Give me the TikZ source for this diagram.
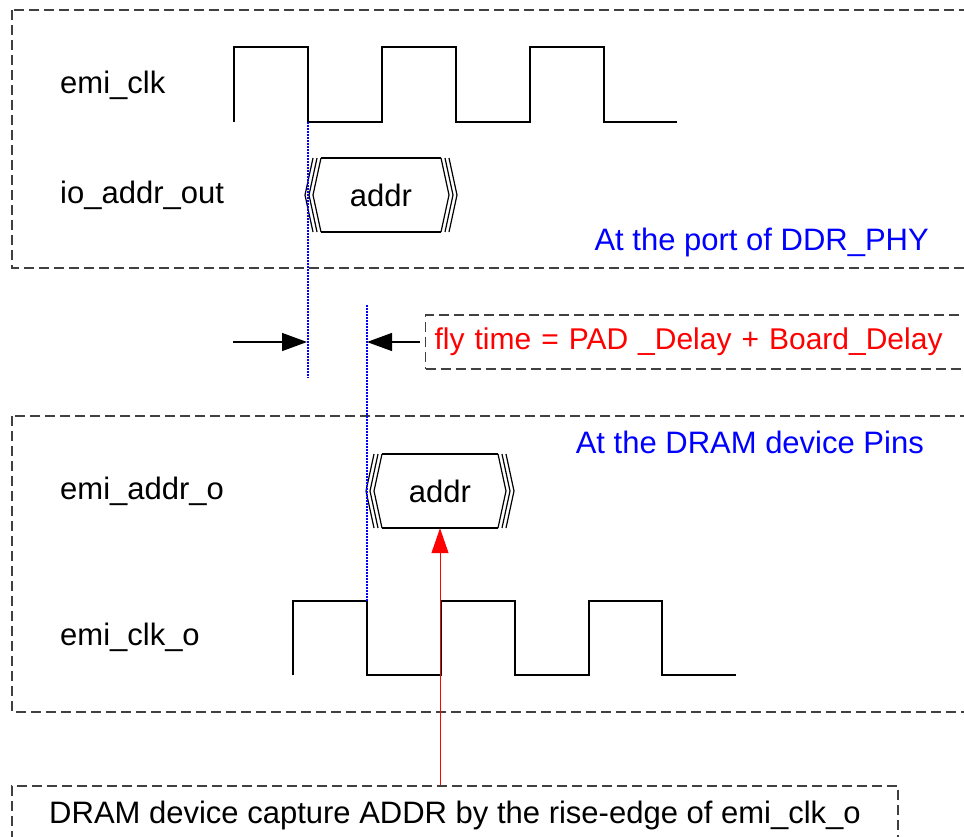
\documentclass[tikz,border=0pt]{standalone}
\usepackage{fontspec}
\setmainfont{Liberation Sans}
\usepackage{xcolor}
\usepackage{tikz}
\usetikzlibrary{arrows.meta, positioning}

% bus value: left x, right x, centre y
\newcommand\busshape[3]{%
  \foreach \k in {0,1,2}{
    \draw[wave] ({#1+8+4*\k},{#3-37}) -- ({#1+4*\k},#3) -- ({#1+8+4*\k},{#3+37});
    \draw[wave] ({#2-8-4*\k},{#3-37}) -- ({#2-4*\k},#3) -- ({#2-8-4*\k},{#3+37});
  }
  \draw[wave] ({#1+16},{#3-37}) -- ({#2-16},{#3-37})
              ({#1+16},{#3+37}) -- ({#2-16},{#3+37});
}

\begin{document}
\begin{tikzpicture}[
  x=1pt, y=-1pt,
  every node/.style={font=\fontsize{31}{37}\selectfont, inner sep=0pt},
  wave/.style={draw=black, line width=1.2pt},
  dashbox/.style={draw=black!75, line width=1.2pt, dash pattern=on 10pt off 5pt},
  marker/.style={draw=blue, line width=1.3pt, dash pattern=on 1.6pt off 1.4pt},
  dimarrow/.style={-{Triangle[length=25pt, width=18pt]}, line width=1.2pt},
  redarrow/.style={-{Triangle[length=25pt, width=17pt]}, draw=red, fill=red, line width=1pt}
]
\useasboundingbox (0,0) rectangle (964,836);

% Boxes
\draw[dashbox] (12,10) rectangle (990,268);
\draw[dashbox] (12,416) rectangle (990,712);

% Signal names
\node[anchor=west] (clk) at (60,85) {emi\_clk};
\node[anchor=west] (addrout) at (60,195) {io\_addr\_out};
\node[anchor=west] (addro) at (60,491) {emi\_addr\_o};
\node[anchor=west] (clko) at (60,637) {emi\_clk\_o};

\node[anchor=east, text=blue] (port) at (929,242) {At the port of DDR\_PHY};
\node[anchor=east, text=blue] (pins) at (924,442) {At the DRAM device Pins};

% Waves
\draw[wave] (234,122) -- (234,47) -- (308,47) -- (308,122) -- (382,122)
  -- (382,47) -- (456,47) -- (456,122) -- (530,122) -- (530,47)
  -- (604,47) -- (604,122) -- (677,122);
\draw[wave] (293,675) -- (293,601) -- (367,601) -- (367,675) -- (441,675)
  -- (441,601) -- (515,601) -- (515,675) -- (589,675) -- (589,601)
  -- (662,601) -- (662,675) -- (736,675);

\busshape{305}{457}{195}
\node[minimum width=120pt, minimum height=74pt] (addrA) at (381,195) {addr};
\busshape{366}{514}{491}
\node[minimum width=116pt, minimum height=74pt] (addrB) at (440,491) {addr};

% Edges
\coordinate (fallA) at (308,122);
\coordinate (fallAend) at (308,378);
\coordinate (riseB) at (367,305);
\coordinate (riseBend) at (367,601);
\draw[marker] (fallA) -- (fallAend);
\draw[marker] (riseB) -- (riseBend);

% Fly time
\node[draw=black!75, line width=1.2pt, dash pattern=on 10pt off 5pt,
  anchor=west, text=red, text width=544pt, align=left, inner xsep=9pt,
  minimum height=54pt, font=\fontsize{30}{36}\selectfont] (fly) at (425,342)
  {fly time = PAD \_Delay + Board\_Delay};
\coordinate (ltail) at (233,342);
\coordinate (lhead) at (307,342);
\coordinate (rtail) at (420,342);
\coordinate (rhead) at (367,342);
\draw[dimarrow] (ltail) -- (lhead);
\draw[dimarrow] (rtail) -- (rhead);

% Capture note
\node[draw=black!75, line width=1.2pt, dash pattern=on 10pt off 5pt,
  minimum width=886pt, minimum height=58pt] (capture) at (455,815)
  {DRAM device capture ADDR by the rise-edge of emi\_clk\_o};
\draw[redarrow] (capture.north -| addrB) -- (addrB.south);
\end{tikzpicture}
\end{document}
